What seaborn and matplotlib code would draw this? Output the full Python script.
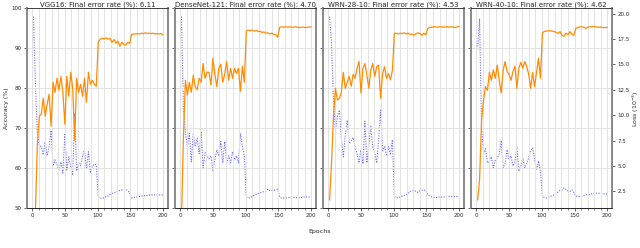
import matplotlib
matplotlib.use("Agg")
import matplotlib.pyplot as plt
from matplotlib.ticker import MultipleLocator
import numpy as np
import pandas as pd
import seaborn as sns

EPOCHS = list(range(2, 201, 3))

MODELS = ["VGG16", "DenseNet-121", "WRN-28-10", "WRN-40-10"]
ERRORS = [6.11, 4.70, 4.53, 4.62]

acc_vgg16 = [30, 49, 66, 73, 73.5, 77.5, 73, 76, 78.5, 70.5, 81.5, 79, 82.5, 79.5, 83, 79, 71,
             83, 78, 84, 80, 67, 82.5, 79, 81, 78, 82.5, 76.5, 84, 81, 82, 81, 80.5,
             91.5, 92.3, 92.5, 92.4, 92.6, 92.3, 92.5, 91.5, 92.2, 91.3, 91.8, 90.5, 91.5, 91,
             90.8, 91.5, 91.2, 93.5, 93.6, 93.6, 93.7, 93.6, 93.8, 93.7, 93.9, 93.7, 93.8, 93.7,
             93.8, 93.6, 93.7, 93.6, 93.7, 93.4]
loss_vgg16 = [19.7, 13.1, 8.2, 7.0, 6.9, 6.1, 7.4, 6.0, 6.9, 8.5, 5.0, 5.6, 5.1, 4.6, 5.4, 4.3, 8.1,
              4.6, 5.9, 4.9, 4.1, 10.2, 4.5, 5.3, 5.0, 6.0, 6.6, 4.7, 6.4, 4.3, 5.0, 5.2, 5.1,
              2.0, 1.85, 1.8, 1.9, 2.0, 2.05, 2.2, 2.3, 2.35, 2.4, 2.5, 2.6, 2.65, 2.6,
              2.7, 2.55, 2.4, 1.85, 1.9, 1.95, 1.95, 2.0, 2.05, 2.05, 2.1, 2.1, 2.15, 2.15,
              2.15, 2.15, 2.15, 2.15, 2.15, 2.15]

acc_densenet = [47, 68, 82, 78.3, 81.5, 79, 83.3, 80.5, 79.6, 82.5, 81.5, 86.2, 82.5, 84, 84, 80.8, 87.5,
                83.5, 80.4, 85, 86, 81.5, 83.5, 86.7, 82, 85, 82.5, 85, 83.7, 85, 79.2, 85.5, 81.5,
                94.3, 94.6, 94.4, 94.6, 94.3, 94.5, 94.2, 94.3, 94.0, 94.1, 93.8, 93.9, 93.6, 93.8,
                93.5, 93.4, 92.8, 95.3, 95.4, 95.3, 95.4, 95.3, 95.4, 95.3, 95.3, 95.4, 95.3, 95.2,
                95.3, 95.3, 95.2, 95.3, 95.3, 95.4]
loss_densenet = [19.7, 10.5, 8.3, 6.9, 8.2, 5.4, 8.2, 6.9, 7.7, 6.2, 8.4, 4.8, 6.3, 6.0, 5.7, 6.0, 4.5,
                 5.6, 6.6, 6.0, 7.4, 5.3, 7.4, 5.3, 6.0, 5.3, 6.4, 5.6, 6.0, 5.3, 8.2, 6.9, 6.0,
                 1.95, 1.85, 1.9, 2.0, 2.1, 2.2, 2.3, 2.35, 2.4, 2.5, 2.55, 2.7, 2.55, 2.6,
                 2.6, 2.65, 2.7, 1.95, 1.85, 1.85, 1.85, 1.85, 1.9, 1.9, 1.9, 1.9, 1.9, 1.9,
                 1.9, 1.95, 1.95, 1.95, 1.95, 1.95]

acc_wrn28 = [52, 61.3, 73, 80, 77, 77.5, 79, 84, 80, 81.5, 83, 80.5, 83.5, 82.5, 85, 86.7, 78.8,
             85, 86.2, 83.3, 80, 84.6, 86.2, 83, 85.4, 85.8, 77.5, 83.7, 85.4, 82.5, 83.7, 82.1, 84.5,
             93.7, 93.8, 93.6, 93.8, 93.7, 93.9, 93.6, 93.8, 93.5, 93.6, 93.3, 93.6, 93.9, 93.7,
             93.3, 93.8, 93.4, 95.0, 95.2, 95.3, 95.4, 95.4, 95.3, 95.4, 95.4, 95.3, 95.4, 95.4,
             95.3, 95.4, 95.3, 95.2, 95.4, 95.5]
loss_wrn28 = [19.7, 17.0, 11.5, 8.5, 9.9, 10.5, 7.7, 5.9, 8.0, 9.5, 7.2, 7.5, 7.8, 6.9, 6.2, 5.3, 6.6,
              5.2, 9.4, 5.3, 7.1, 8.9, 6.9, 6.3, 5.3, 7.6, 10.5, 6.5, 6.9, 6.0, 6.9, 6.1, 7.6,
              2.0, 1.85, 1.9, 1.95, 2.05, 2.1, 2.15, 2.3, 2.5, 2.55, 2.6, 2.5, 2.4, 2.55,
              2.6, 2.65, 2.6, 2.2, 2.05, 1.95, 1.95, 1.9, 1.9, 1.95, 1.95, 1.95, 1.95, 2.0,
              2.0, 2.0, 2.0, 2.0, 2.0, 2.0]

acc_wrn40 = [52, 57, 72, 77, 80.4, 79.5, 84, 82, 84.6, 82.5, 85.8, 82, 78.8, 84.5, 86.7, 84.2, 83.5,
             82, 84.2, 85.5, 80, 85, 86.5, 85, 86.7, 85.5, 83.5, 80, 84, 80.4, 84, 87.5, 82.5,
             93.8, 94.3, 94.3, 94.4, 94.4, 94.3, 94.2, 94.0, 93.75, 94.2, 93.2, 93.0, 93.8, 93.4,
             94.2, 93.5, 93.3, 95.0, 95.2, 95.4, 95.4, 95.3, 95.0, 95.3, 95.4, 95.4, 95.5, 95.4,
             95.3, 95.3, 95.3, 95.2, 95.2, 95.3]
loss_wrn40 = [16.5, 19.5, 8.9, 6.3, 6.7, 5.3, 5.5, 5.9, 4.8, 5.6, 5.8, 6.2, 7.5, 4.8, 5.2, 6.6, 5.6,
              6.0, 5.0, 5.4, 6.9, 4.5, 5.0, 5.8, 4.8, 5.3, 5.8, 6.5, 6.8, 5.7, 4.6, 5.5, 4.5,
              2.0, 1.9, 1.85, 1.9, 2.0, 2.1, 2.15, 2.3, 2.45, 2.6, 2.65, 2.85, 2.7, 2.55,
              2.5, 2.65, 2.4, 2.05, 2.0, 2.0, 2.05, 2.1, 2.15, 2.2, 2.2, 2.25, 2.3, 2.3,
              2.35, 2.3, 2.3, 2.25, 2.25, 2.25]

ACC = [acc_vgg16, acc_densenet, acc_wrn28, acc_wrn40]
LOSS = [loss_vgg16, loss_densenet, loss_wrn28, loss_wrn40]

sns.set_style("ticks")
plt.rcParams["font.family"] = ["DejaVu Sans"]

fig, axes = plt.subplots(1, 4, figsize=(6.4, 2.48), dpi=100, sharey=True)
fig.subplots_adjust(left=0.042, right=0.957, top=0.966, bottom=0.161, wspace=0.047)

twins = []
for i, ax in enumerate(axes):
    df = pd.DataFrame({"epoch": EPOCHS, "acc": ACC[i], "loss": LOSS[i]})
    tw = ax.twinx()
    twins.append(tw)
    ax.set_zorder(tw.get_zorder() + 1)
    ax.patch.set_visible(False)
    sns.lineplot(data=df, x="epoch", y="acc", ax=ax, color="#ff8c00", lw=0.9)
    sns.lineplot(data=df, x="epoch", y="loss", ax=tw, color="#5a5aff", lw=0.8,
                 dashes=False, alpha=0.9)
    tw.lines[0].set_linestyle((0, (1, 1.3)))
    ax.set_xlim(-8, 208)
    ax.set_ylim(50, 100)
    tw.set_ylim(0.86, 20.5)
    ax.xaxis.set_major_locator(MultipleLocator(50))
    ax.xaxis.set_minor_locator(MultipleLocator(10))
    ax.yaxis.set_major_locator(MultipleLocator(10))
    ax.grid(which="both", axis="x", color="#e2e2e2", lw=0.7)
    ax.grid(which="major", axis="y", color="#e2e2e2", lw=0.7)
    ax.set_axisbelow(True)
    ax.set_xlabel("")
    ax.set_ylabel("")
    tw.set_ylabel("")
    ax.set_title(f"{MODELS[i]}: Final error rate (%): {ERRORS[i]:.2f}", fontsize=5, pad=1.5)
    ax.tick_params(labelsize=4, length=2, width=0.5, pad=1.5)
    ax.tick_params(which="minor", length=1.2, width=0.4)
    tw.tick_params(labelsize=4, length=2, width=0.5, pad=1.5)
    for sp in ("left", "right"):
        ax.spines[sp].set_color("#8c8c8c")
        ax.spines[sp].set_linewidth(1.4)
        tw.spines[sp].set_color("#8c8c8c")
        tw.spines[sp].set_linewidth(1.4)
    for sp in ("top", "bottom"):
        ax.spines[sp].set_linewidth(0.6)
        tw.spines[sp].set_linewidth(0.6)
    if i < 3:
        tw.tick_params(right=False, labelright=False)
    else:
        tw.yaxis.set_major_locator(MultipleLocator(2.5))
        tw.spines["right"].set_color("black")
        tw.spines["right"].set_linewidth(0.7)

axes[0].set_ylabel("Accuracy (%)", fontsize=4.5, labelpad=2)
twins[-1].set_ylabel("Loss ($10^{-3}$)", fontsize=4.5, labelpad=1)
fig.text(0.5, 0.065, "Epochs", ha="center", va="center", fontsize=4.5)

fig.savefig("out.png", dpi=100)
